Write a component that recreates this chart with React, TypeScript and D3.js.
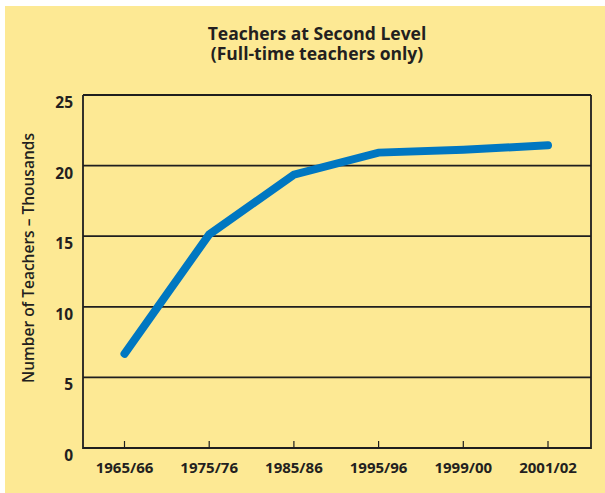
import React from "react";
import * as d3 from "d3";

const categories = ["1965/66", "1975/76", "1985/86", "1995/96", "1999/00", "2001/02"];
const teachers = [6.67, 15.13, 19.36, 20.92, 21.12, 21.44];
const yTicks = [0, 5, 10, 15, 20, 25];

const W = 605;
const H = 493;
const left = 83;
const right = 591;
const top = 95;
const bottom = 448;

export default function App() {
  const x = d3.scalePoint<string>().domain(categories).range([124.5, 548]);
  const y = d3.scaleLinear().domain([0, 25]).range([bottom, top]);
  const line = d3
    .line<number>()
    .x((_, i) => x(categories[i]) as number)
    .y((d) => y(d));
  const font = "'Open Sans', 'DejaVu Sans', sans-serif";
  return (
    <svg
      width={W}
      height={H}
      style={{ position: "absolute", left: 0, top: 0 }}
      fontFamily={font}
    >
      <rect x={5} y={6} width={W - 5} height={H - 6} fill="#FDE994" />
      <text textAnchor="middle" fontSize={17.5} fontWeight={700} fill="#231f20">
        <tspan x={317} y={40}>Teachers at Second Level</tspan>
        <tspan x={317} y={60}>(Full-time teachers only)</tspan>
      </text>
      {yTicks.map((t) => (
        <g key={t}>
          {t > 0 && (
            <line x1={left} x2={right} y1={y(t)} y2={y(t)} stroke="#1e1e1e" strokeWidth={1.8} />
          )}
          <text
            x={73}
            y={y(t) + 13}
            textAnchor="end"
            fontSize={15.5}
            fontWeight={700}
            fill="#231f20"
          >
            {t}
          </text>
        </g>
      ))}
      <path
        d={`M${left},${top}V${bottom}H${right}V${top}`}
        fill="none"
        stroke="#1e1e1e"
        strokeWidth={1.8}
      />
      {categories.map((c) => (
        <g key={c}>
          <line
            x1={x(c)}
            x2={x(c)}
            y1={bottom}
            y2={bottom - 7}
            stroke="#1e1e1e"
            strokeWidth={1.2}
          />
          <text
            x={x(c)}
            y={473}
            textAnchor="middle"
            fontSize={15}
            fontWeight={700}
            fill="#231f20"
          >
            {c}
          </text>
        </g>
      ))}
      <text
        transform={`translate(34,258) rotate(-90)`}
        textAnchor="middle"
        fontSize={15.5}
        fontWeight={600}
        fill="#231f20"
      >
        Number of Teachers – Thousands
      </text>
      <path
        d={line(teachers) ?? ""}
        fill="none"
        stroke="#0077C1"
        strokeWidth={8}
        strokeLinecap="round"
        strokeLinejoin="miter"
      />
    </svg>
  );
}
